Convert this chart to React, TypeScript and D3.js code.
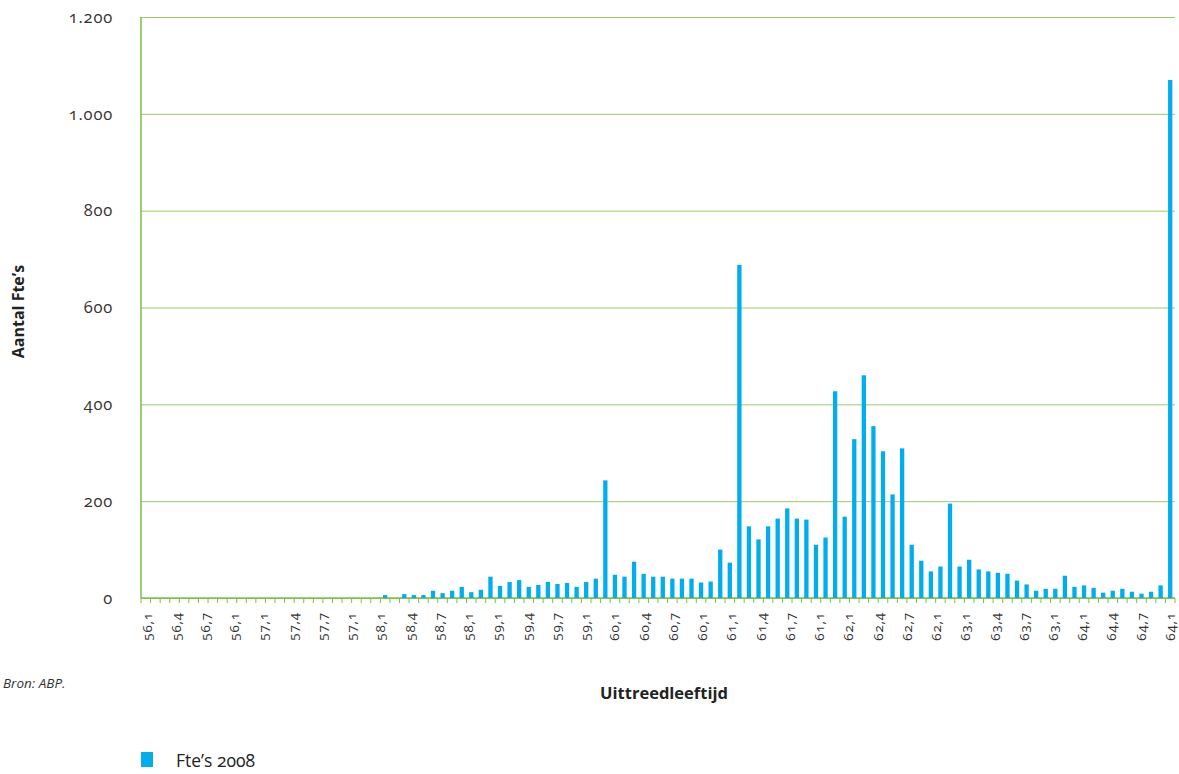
import React, { useEffect, useRef } from 'react';
import * as d3 from 'd3';

// categorieen: leeftijd, maand
const years = [56, 57, 58, 59, 60, 61, 62, 63, 64];
const months = [1, 2, 3, 4, 5, 6, 7, 8, 9, 10, 11, 12];
const categories = years.flatMap(yr => months.map(m => `${yr},${m}`));

// Fte's 2008 per categorie (108 waarden)
const fte2008 = [
  0, 0, 0, 0, 0, 0, 0, 0, 0, 0, 0, 0,
  0, 0, 0, 0, 0, 0, 0, 0, 0, 0, 0, 0,
  0, 6, 0, 8, 6, 6, 15, 10, 15, 23, 12, 17,
  44, 25, 33, 37, 23, 27, 33, 29, 31, 23, 33, 40,
  243, 48, 44, 75, 50, 44, 44, 40, 40, 40, 32, 34,
  100, 73, 688, 148, 121, 148, 164, 185, 164, 162, 110, 125,
  427, 168, 328, 460, 355, 303, 214, 309, 110, 77, 55, 65,
  195, 65, 79, 59, 55, 52, 50, 36, 28, 15, 19, 19,
  46, 23, 26, 21, 11, 15, 19, 13, 9, 13, 26, 1070,
];

const yTicks = [0, 200, 400, 600, 800, 1000, 1200];

const xTickLabels = [
  '56,1', '56,4', '56,7', '56,1', '57,1', '57,4', '57,7', '57,1',
  '58,1', '58,4', '58,7', '58,1', '59,1', '59,4', '59,7', '59,1',
  '60,1', '60,4', '60,7', '60,1', '61,1', '61,4', '61,7', '61,1',
  '62,1', '62,4', '62,7', '62,1', '63,1', '63,4', '63,7', '63,1',
  '64,1', '64,4', '64,7', '64,1',
];

const seriesName = 'Fte\u2019s 2008';

const W = 1179;
const H = 774;
const left = 141;
const right = 1175;
const top = 17;
const bottom = 598;

const barColor = '#00aeef';
const gridColor = '#9ccc65';
const axisColor = '#7dbf45';
const textColor = '#333';
const font = '"Open Sans", "Noto Sans", sans-serif';

export default function App() {
  const ref = useRef<SVGSVGElement>(null);

  useEffect(() => {
    const svg = d3.select(ref.current);
    svg.selectAll('*').remove();

    const x = d3.scaleBand<string>()
      .domain(categories)
      .range([left, right])
      .paddingInner(0.55)
      .paddingOuter(0.275);

    const y = d3.scaleLinear()
      .domain([0, 1200])
      .range([bottom, top]);

    // gridlijnen
    const grid = svg.append('g')
      .attr('transform', `translate(${left},0)`)
      .call(d3.axisLeft(y).tickValues(yTicks).tickSize(-(right - left)).tickFormat(() => ''));
    grid.select('.domain').remove();
    grid.selectAll('line').attr('stroke', gridColor).attr('stroke-width', 1);

    // y labels
    const fmt = d3.formatLocale({ decimal: ',', thousands: '.', grouping: [3], currency: ['€', ''] }).format(',d');
    svg.append('g')
      .selectAll('text')
      .data(yTicks)
      .join('text')
      .attr('x', 113)
      .attr('y', d => y(d))
      .attr('dy', '0.35em')
      .attr('text-anchor', 'end')
      .style('font-family', font)
      .style('font-size', '16.5px')
      .style('letter-spacing', '0.8px')
      .style('font-variant-numeric', 'oldstyle-nums')
      .attr('fill', textColor)
      .text(d => fmt(d));

    // assen
    svg.append('line')
      .attr('x1', left).attr('x2', left)
      .attr('y1', top).attr('y2', bottom)
      .attr('stroke', axisColor).attr('stroke-width', 1.5);
    svg.append('line')
      .attr('x1', left).attr('x2', right)
      .attr('y1', bottom).attr('y2', bottom)
      .attr('stroke', axisColor).attr('stroke-width', 1.5);

    const gap = (x.step() - x.bandwidth()) / 2;
    const tickXs = categories.map(c => (x(c) as number) - gap).concat([right]);
    svg.append('g')
      .selectAll('line')
      .data(tickXs)
      .join('line')
      .attr('x1', d => d).attr('x2', d => d)
      .attr('y1', bottom).attr('y2', bottom + 5)
      .attr('stroke', axisColor).attr('stroke-width', 1);

    // staven
    svg.append('g')
      .selectAll('rect')
      .data(fte2008)
      .join('rect')
      .attr('x', (d, i) => x(categories[i]) as number)
      .attr('width', x.bandwidth())
      .attr('y', d => y(d))
      .attr('height', d => bottom - y(d))
      .attr('fill', barColor);

    // x labels
    const first = (x(categories[0]) as number) + x.bandwidth() / 2;
    const last = (x(categories[categories.length - 1]) as number) + x.bandwidth() / 2;
    const xl = d3.scalePoint<number>()
      .domain(d3.range(xTickLabels.length))
      .range([first, last - 1]);
    svg.append('g')
      .selectAll('text')
      .data(xTickLabels)
      .join('text')
      .attr('transform', (d, i) => `translate(${(xl(i) as number) + 1},612) rotate(-90)`)
      .attr('dy', '0.35em')
      .attr('text-anchor', 'end')
      .style('font-family', font)
      .style('font-size', '13.5px')
      .style('letter-spacing', '0.8px')
      .style('font-variant-numeric', 'oldstyle-nums')
      .attr('fill', textColor)
      .text(d => d);

    // titels
    svg.append('text')
      .attr('transform', `translate(18,${(top + bottom) / 2 + 4}) rotate(-90)`)
      .attr('dy', '0.35em')
      .attr('text-anchor', 'middle')
      .style('font-family', font)
      .style('font-size', '16px')
      .style('font-weight', 'bold')
      .attr('fill', '#222')
      .text('Aantal Fte\u2019s');

    svg.append('text')
      .attr('x', 664)
      .attr('y', 699)
      .attr('text-anchor', 'middle')
      .style('font-family', font)
      .style('font-size', '16.5px')
      .style('font-weight', 'bold')
      .attr('fill', '#222')
      .text('Uittreedleeftijd');

    svg.append('text')
      .attr('x', 3)
      .attr('y', 688)
      .style('font-family', font)
      .style('font-size', '13.5px')
      .style('font-style', 'italic')
      .attr('fill', textColor)
      .text('Bron: ABP.');

    // legenda
    svg.append('rect')
      .attr('x', 141).attr('y', 752)
      .attr('width', 12).attr('height', 15)
      .attr('fill', barColor);
    svg.append('text')
      .attr('x', 176)
      .attr('y', 767)
      .style('font-family', font)
      .style('font-size', '17.5px')
      .attr('fill', '#222')
      .style('font-variant-numeric', 'oldstyle-nums')
      .text(seriesName);
  }, []);

  return (
    <div style={{ position: 'absolute', left: 0, top: 0 }}>
      <svg ref={ref} width={W} height={H} style={{ display: 'block', background: '#fff' }} />
    </div>
  );
}
